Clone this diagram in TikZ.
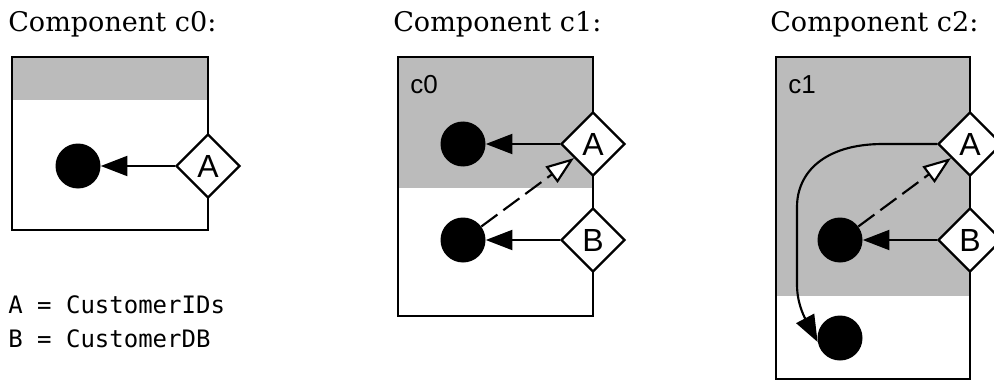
\documentclass[tikz,border=0pt]{standalone}
\usepackage{fontspec}
\setmainfont{DejaVu Serif}
\setsansfont{Liberation Sans}
\setmonofont{DejaVu Sans Mono}
\usetikzlibrary{shapes.geometric, arrows.meta}
\definecolor{bandgray}{HTML}{BBBBBB}

\begin{document}
\begin{tikzpicture}[x=0.75pt, y=-0.75pt,
	port/.style={diamond, draw, fill=white, line width=1.7pt, minimum width=48pt, minimum height=48pt, inner sep=0pt, font=\sffamily\fontsize{24}{24}\selectfont},
	dot/.style={circle, fill=black, minimum size=33.75pt, inner sep=0pt},
	wire/.style={line width=1.6pt, -{Triangle[length=20pt, width=15pt]}},
	uses/.style={line width=1.6pt, dash pattern=on 15pt off 5.5pt, -{Triangle[open, length=21pt, width=15pt, fill=white]}},
	frame/.style={line width=1.9pt},
	title/.style={anchor=base west, inner sep=0pt, font=\fontsize{20.3}{22}\selectfont},
	tag/.style={anchor=west, inner sep=0pt, font=\sffamily\fontsize{19.5}{19.5}\selectfont},
	legend/.style={anchor=base west, inner sep=0pt, font=\ttfamily\fontsize{18}{18}\selectfont}]

	\useasboundingbox (0, 0) rectangle (994, 381);

	% component c0
	\node[title] (t0) at (8, 32) {Component c0:};
	\fill[bandgray] (12, 57) rectangle (208, 100);
	\draw[frame] (12, 57) rectangle (208, 230);
	\node[port] (a0) at (208, 166) {A};
	\node[dot] (d0) at (78, 166) {};
	\draw[wire] (a0) -- (d0);

	\node[legend] (la) at (8, 313) {A = CustomerIDs};
	\node[legend] (lb) at (8, 347) {B = CustomerDB};

	% component c1, c0 nested in the upper part
	\node[title] (t1) at (393, 32) {Component c1:};
	\fill[bandgray] (398, 57) rectangle (593, 188);
	\draw[frame] (398, 57) rectangle (593, 316);
	\node[tag] (n1) at (410, 85) {c0};
	\node[port] (a1) at (593, 144) {A};
	\node[port] (b1) at (593, 240) {B};
	\node[dot] (d1) at (463, 144) {};
	\node[dot] (e1) at (463, 240) {};
	\draw[wire] (a1) -- (d1);
	\draw[wire] (b1) -- (e1);
	\draw[uses] (e1) -- (a1);

	% component c2, c1 nested in the upper part
	\node[title] (t2) at (770, 32) {Component c2:};
	\fill[bandgray] (776, 57) rectangle (970, 296);
	\draw[frame] (776, 57) rectangle (970, 379);
	\node[tag] (n2) at (788, 85) {c1};
	\node[port] (a2) at (970, 144) {A};
	\node[port] (b2) at (970, 240) {B};
	\node[dot] (d2) at (840, 240) {};
	\node[dot] (e2) at (840, 338) {};
	\coordinate (k1) at (883, 144);
	\coordinate (k2) at (797, 207);
	\coordinate (k3) at (797, 285);
	\draw[wire] (b2) -- (d2);
	\draw[uses] (d2) -- (a2);
	\draw[wire] (a2.west) -- (k1) .. controls (825, 144) and (797, 172) .. (k2) -- (k3) .. controls (797, 305) and (806, 320) .. (e2.190);
\end{tikzpicture}
\end{document}
